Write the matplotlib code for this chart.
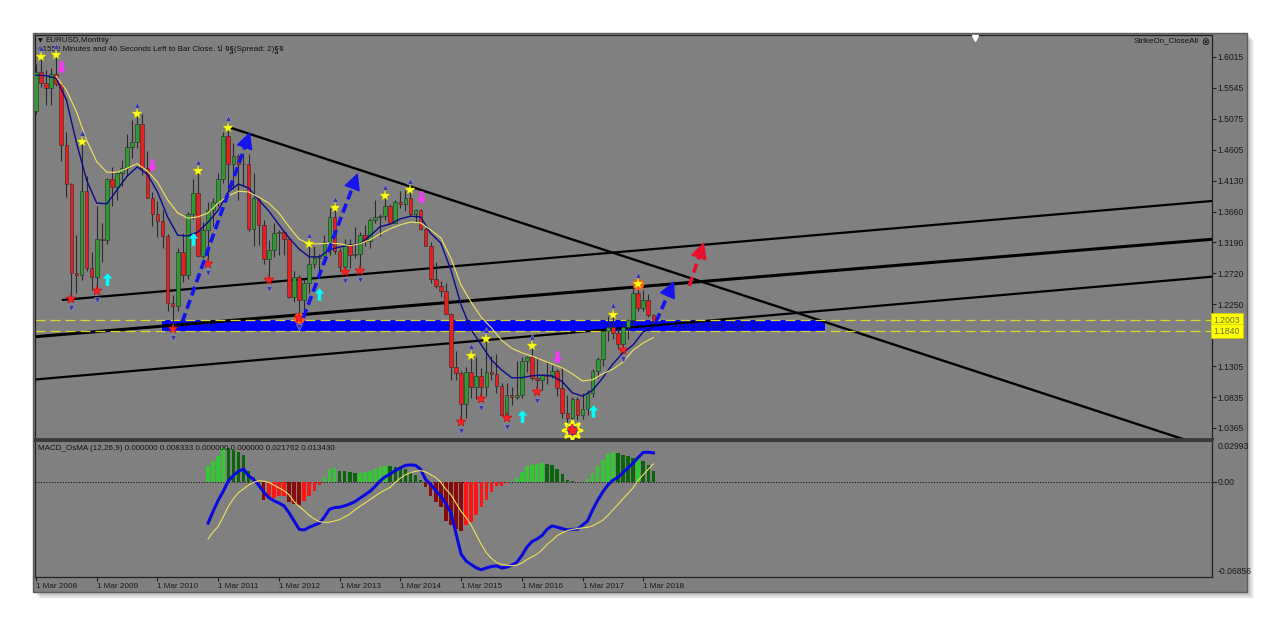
import numpy as np
import matplotlib
matplotlib.use('Agg')
import matplotlib.pyplot as plt
from matplotlib.patches import Rectangle
from matplotlib.path import Path
import matplotlib.transforms as mtransforms
from matplotlib import font_manager, ft2font

# find an installed family that carries Thai glyphs (for the header text)
thai_family = None
for f in font_manager.fontManager.ttflist:
    try:
        cmap = ft2font.FT2Font(f.fname).get_charmap()
    except Exception:
        continue
    if 0x0E1B in cmap and 0x0E08 in cmap and 0x0E10 in cmap:
        thai_family = f.name
        break

families = ['Liberation Sans', 'DejaVu Sans']
if thai_family:
    families.append(thai_family)
plt.rcParams['font.family'] = families

# EURUSD monthly, bar 0 = Mar 2008 ... bar 122 = May 2018
opens = [1.5185, 1.5785, 1.5615, 1.5550, 1.5755, 1.5605, 1.4675, 1.4080, 1.2725, 1.2700,
         1.3970, 1.2800, 1.2665, 1.3245, 1.3230, 1.4150, 1.4030, 1.4250, 1.4330, 1.4640,
         1.4720, 1.5000, 1.4320, 1.3865, 1.3625, 1.3510, 1.3290, 1.2270, 1.2230, 1.3050,
         1.2690, 1.3630, 1.3940, 1.2980, 1.3380, 1.3690, 1.3800, 1.4160, 1.4810, 1.4390,
         1.4500, 1.4390, 1.4380, 1.3390, 1.3870, 1.3450, 1.2940, 1.3080, 1.3340, 1.3345,
         1.3240, 1.2360, 1.2660, 1.2310, 1.2580, 1.2860, 1.2960, 1.2990, 1.3190, 1.3580,
         1.3060, 1.2820, 1.3170, 1.3000, 1.3010, 1.3300, 1.3220, 1.3530, 1.3580, 1.3590,
         1.3750, 1.3490, 1.3800, 1.3770, 1.3870, 1.3630, 1.3690, 1.3390, 1.3130, 1.2630,
         1.2530, 1.2450, 1.2100, 1.1290, 1.1200, 1.0730, 1.1220, 1.0990, 1.1150, 1.0990,
         1.1210, 1.1180, 1.1010, 1.0570, 1.0860, 1.0830, 1.0870, 1.1380, 1.1450, 1.1130,
         1.1100, 1.1170, 1.1160, 1.1240, 1.0980, 1.0590, 1.0520, 1.0800, 1.0570, 1.0650,
         1.0900, 1.1240, 1.1420, 1.1840, 1.1910, 1.1810, 1.1650, 1.1900, 1.2010, 1.2420,
         1.2190, 1.2320, 1.2080]
highs = [1.5904, 1.6019, 1.5820, 1.5842, 1.6038, 1.5620, 1.4867, 1.4100, 1.3300, 1.4720,
         1.4200, 1.3050, 1.3740, 1.3480, 1.4170, 1.4340, 1.4280, 1.4450, 1.4840, 1.5060,
         1.5140, 1.5145, 1.4580, 1.3960, 1.3820, 1.3690, 1.3320, 1.2390, 1.3110, 1.3330,
         1.3650, 1.4160, 1.4280, 1.3500, 1.3800, 1.3860, 1.4250, 1.4880, 1.4940, 1.4700,
         1.4540, 1.4550, 1.4540, 1.4250, 1.3870, 1.3530, 1.3230, 1.3490, 1.3380, 1.3370,
         1.3280, 1.2750, 1.2700, 1.2640, 1.3170, 1.3140, 1.3010, 1.3310, 1.3710, 1.3711,
         1.3110, 1.3240, 1.3240, 1.3420, 1.3350, 1.3450, 1.3570, 1.3830, 1.3620, 1.3893,
         1.3770, 1.3830, 1.3970, 1.3990, 1.3993, 1.3700, 1.3700, 1.3440, 1.3190, 1.2890,
         1.2600, 1.2570, 1.2110, 1.1530, 1.1230, 1.1290, 1.1467, 1.1440, 1.1280, 1.1714,
         1.1460, 1.1490, 1.1050, 1.1050, 1.0990, 1.1380, 1.1440, 1.1460, 1.1616, 1.1430,
         1.1190, 1.1370, 1.1330, 1.1260, 1.1300, 1.0870, 1.0830, 1.0830, 1.0900, 1.0950,
         1.1270, 1.1450, 1.1840, 1.2070, 1.2092, 1.1880, 1.1960, 1.2020, 1.2540, 1.2556,
         1.2470, 1.2410, 1.2100]
lows = [1.5146, 1.5555, 1.5285, 1.5285, 1.5575, 1.4430, 1.3885, 1.2330, 1.2420, 1.2620,
        1.2750, 1.2460, 1.2455, 1.2890, 1.3160, 1.3750, 1.3830, 1.4050, 1.4210, 1.4480,
        1.4630, 1.4220, 1.3860, 1.3440, 1.3270, 1.3110, 1.2140, 1.1876, 1.2150, 1.2590,
        1.2640, 1.3550, 1.2970, 1.2960, 1.2867, 1.3440, 1.3750, 1.4100, 1.3970, 1.4010,
        1.3840, 1.4050, 1.3360, 1.3140, 1.3150, 1.2860, 1.2624, 1.2970, 1.3000, 1.3000,
        1.2340, 1.2290, 1.2042, 1.2130, 1.2420, 1.2800, 1.2660, 1.2920, 1.3000, 1.3020,
        1.2750, 1.2745, 1.2800, 1.2950, 1.2755, 1.3130, 1.3110, 1.3480, 1.3290, 1.3540,
        1.3480, 1.3480, 1.3710, 1.3670, 1.3590, 1.3500, 1.3380, 1.3130, 1.2570, 1.2500,
        1.2360, 1.2100, 1.1100, 1.1100, 1.0462, 1.0520, 1.0820, 1.0810, 1.0809, 1.0850,
        1.1090, 1.0900, 1.0560, 1.0522, 1.0710, 1.0810, 1.0820, 1.1210, 1.1100, 1.0912,
        1.0950, 1.1040, 1.1120, 1.0850, 1.0520, 1.0350, 1.0340, 1.0490, 1.0500, 1.0570,
        1.0840, 1.1120, 1.1310, 1.1690, 1.1720, 1.1570, 1.1554, 1.1720, 1.1920, 1.2150,
        1.2150, 1.2060, 1.1950]
closes = [1.5785, 1.5615, 1.5550, 1.5755, 1.5605, 1.4675, 1.4080, 1.2725, 1.2700, 1.3970,
          1.2800, 1.2665, 1.3245, 1.3230, 1.4150, 1.4030, 1.4250, 1.4330, 1.4640, 1.4720,
          1.5000, 1.4320, 1.3865, 1.3625, 1.3510, 1.3290, 1.2270, 1.2230, 1.3050, 1.2690,
          1.3630, 1.3940, 1.2980, 1.3380, 1.3690, 1.3800, 1.4160, 1.4810, 1.4390, 1.4500,
          1.4390, 1.4380, 1.3390, 1.3870, 1.3450, 1.2940, 1.3080, 1.3340, 1.3345, 1.3240,
          1.2360, 1.2660, 1.2310, 1.2580, 1.2860, 1.2960, 1.2990, 1.3190, 1.3580, 1.3060,
          1.2820, 1.3170, 1.3000, 1.3010, 1.3300, 1.3220, 1.3530, 1.3580, 1.3590, 1.3750,
          1.3490, 1.3800, 1.3770, 1.3870, 1.3630, 1.3690, 1.3390, 1.3130, 1.2630, 1.2530,
          1.2450, 1.2100, 1.1290, 1.1200, 1.0730, 1.1220, 1.0990, 1.1150, 1.0990, 1.1210,
          1.1180, 1.1010, 1.0570, 1.0860, 1.0830, 1.0870, 1.1380, 1.1450, 1.1130, 1.1100,
          1.1170, 1.1160, 1.1240, 1.0980, 1.0590, 1.0520, 1.0800, 1.0570, 1.0650, 1.0900,
          1.1240, 1.1420, 1.1840, 1.1910, 1.1810, 1.1650, 1.1900, 1.2010, 1.2420, 1.2190,
          1.2320, 1.2080, 1.1995]

# moving averages (every 2nd bar)
navy_ma_bars = list(range(0, 123, 2))
navy_ma = [1.574, 1.573, 1.569, 1.536, 1.471, 1.414, 1.379, 1.378, 1.399, 1.420, 1.434, 1.423,
           1.396, 1.358, 1.330, 1.329, 1.335, 1.350, 1.368, 1.396, 1.408, 1.402, 1.384, 1.367,
           1.346, 1.326, 1.309, 1.297, 1.297, 1.308, 1.312, 1.315, 1.317, 1.329, 1.343, 1.347,
           1.355, 1.359, 1.358, 1.333, 1.318, 1.277, 1.224, 1.186, 1.163, 1.140, 1.125, 1.113,
           1.113, 1.116, 1.117, 1.116, 1.107, 1.090, 1.085, 1.094, 1.113, 1.134, 1.151, 1.163,
           1.183, 1.190]
yellow_ma_bars = list(range(4, 123, 2))
yellow_ma = [1.572, 1.551, 1.518, 1.475, 1.442, 1.426, 1.426, 1.432, 1.439, 1.428, 1.411, 1.384,
             1.364, 1.356, 1.358, 1.364, 1.379, 1.390, 1.397, 1.396, 1.388, 1.379, 1.364, 1.343,
             1.324, 1.317, 1.317, 1.318, 1.317, 1.314, 1.317, 1.323, 1.332, 1.340, 1.346, 1.350,
             1.349, 1.338, 1.326, 1.295, 1.254, 1.228, 1.205, 1.189, 1.170, 1.158, 1.151, 1.146,
             1.140, 1.134, 1.128, 1.119, 1.108, 1.110, 1.119, 1.126, 1.137, 1.155, 1.166, 1.174]

# signals
star_high_bars = [1, 4, 9, 20, 32, 38, 54, 59, 69, 74, 86, 89, 98, 114, 119]
star_low_bars = [7, 12, 27, 34, 46, 52, 61, 64, 84, 88, 93, 99, 106, 116]
buy_arrow_bars = [14, 31, 56, 96, 110]
buy_arrow_price = [1.2629, 1.3243, 1.2401, 1.0547, 1.0624]
sell_arrow_bars = [5, 23, 76, 103]
sell_arrow_price = [1.5858, 1.4370, 1.3878, 1.1446]
sun_bar = 106

# chart objects (bar, price)
line_a = [(5.1, 1.2314), (232.4, 1.3822)]
line_b = [(-0.2, 1.1755), (232.4, 1.3239)]
line_c = [(-0.2, 1.1103), (232.4, 1.2669)]
line_d = [(38.0, 1.4949), (240.0, 0.9860)]
zone_lo, zone_hi = 1.1840, 1.2003
zone_start, zone_end = 24.9, 155.9
blue_arrows = [((28.9, 1.1979), (42.3, 1.4873)),
               ((52.8, 1.2040), (63.6, 1.4248)),
               ((122.5, 1.1979), (126.1, 1.2604))]
red_arrow = ((129.1, 1.2527), (132.0, 1.3197))

price_ticks = [1.6015, 1.5545, 1.5075, 1.4605, 1.4130, 1.3660, 1.3190, 1.2720,
               1.2250, 1.1780, 1.1305, 1.0835, 1.0365]
date_bars = [0, 12, 24, 36, 48, 60, 72, 84, 96, 108, 120]
date_labels = ['1 Mar 2008', '1 Mar 2009', '1 Mar 2010', '1 Mar 2011', '1 Mar 2012',
               '1 Mar 2013', '1 Mar 2014', '1 Mar 2015', '1 Mar 2016', '1 Mar 2017',
               '1 Mar 2018']

# MACD_OsMA (12,26,9), bars 34..122, values x1e-3
macd_bars = list(range(34, 123))
osma = [12.1, 15.2, 18.8, 24.9, 24.6, 23.7, 22.0, 19.6, 8.0, 3.5,
        -3.0, -13.0, -12.0, -11.0, -10.2, -9.8, -14.5, -15.5, -16.4, -13.3,
        -9.7, -6.0, -1.7, 3.6, 10.0, 10.4, 8.5, 8.0, 7.2, 6.5,
        7.0, 7.3, 8.5, 10.0, 11.0, 12.0, 11.5, 10.8, 10.1, 9.6,
        7.2, 5.3, 1.9, -3.6, -9.7, -14.5, -18.0, -27.8, -31.0, -33.8,
        -35.0, -31.0, -29.0, -23.7, -18.0, -12.6, -6.8, -3.0, -2.4, -0.7,
        1.2, 2.9, 7.7, 12.0, 12.8, 13.3, 13.8, 13.3, 12.8, 9.7,
        6.0, 1.9, 1.2, 0.3, 0.5, 2.4, 6.5, 11.6, 16.4, 20.5,
        22.2, 21.3, 19.8, 18.8, 17.4, 17.8, 15.7, 12.6, 8.3]
macd_line = [-29.5, -21, -13, -6.5, 1, 5, 8, 9.7, 4.8, 2,
             -2, -7, -11, -13.3, -15, -17, -22, -28, -34, -34.5,
             -32.5, -31, -29.5, -25, -19.5, -18.3, -18, -17, -15.7, -14,
             -11.5, -9, -6.5, -3, 1, 4, 6, 8.5, 10.5, 12.3,
             12.6, 12.3, 9.5, 2, -1.5, -6, -10, -15.5, -22, -37,
             -52, -57, -59.5, -62, -63.3, -62, -61, -60.5, -62, -61.5,
             -60, -58, -53, -47, -43, -41, -38.5, -34, -31.5, -32.5,
             -33.5, -34.5, -34, -34, -31, -28, -20, -13, -7, -2,
             1.5, 3.6, 7, 10.5, 14, 18, 21.7, 21.8, 21.3]
signal_line = [-41, -36, -32, -25, -17.5, -12, -7.5, -4.8, -2, 0,
               1.2, 0.8, 0, -2, -4, -6, -9, -14, -17.5, -20.5,
               -24, -26.5, -28.5, -29, -28.8, -28, -27, -25, -23, -20,
               -17.5, -15, -12.5, -10, -7.5, -5.5, -3.6, 0, 3, 5.5,
               7, 8, 8.5, 7.5, 5.5, 3.5, 0, -5, -9, -15,
               -21, -25.5, -31, -38, -45, -51, -55, -58, -59.5, -60,
               -60.4, -60, -58.5, -56, -54, -52, -49, -45, -42, -38.6,
               -36.5, -35, -34, -33.5, -33, -32.6, -31.5, -29.5, -27.5, -24,
               -20, -16, -12, -8, -4, 1.5, 5.5, 9.5, 13.3]

W, H = 1280, 626
BG = '#808080'


def fx(px):
    return px / W


def fy(py):
    return 1 - py / H


fig = plt.figure(figsize=(12.8, 6.26), dpi=100, facecolor='white')

# terminal window + soft shadow
for k in range(1, 8):
    fig.add_artist(Rectangle((fx(33 + k), fy(592 + k)), fx(1214), 559 / H,
                             transform=fig.transFigure, facecolor='black',
                             alpha=0.045, edgecolor='none', zorder=-3))
win = Rectangle((fx(33), fy(592)), fx(1214), 559 / H, transform=fig.transFigure,
                facecolor=BG, edgecolor='#5c5c5c', lw=1, zorder=-2)
fig.add_artist(win)

ax = fig.add_axes([fx(35), fy(439), fx(1177), 404 / H])
ax2 = fig.add_axes([fx(35), fy(577), fx(1177), 136 / H])
for a in (ax, ax2):
    a.set_facecolor(BG)
    a.set_xlim(-0.2, 232.4)
    for s in a.spines.values():
        s.set_color('#222222')
        s.set_linewidth(0.9)
ax.spines['bottom'].set_color('#3a3a3a')
ax.spines['bottom'].set_linewidth(2)
ax2.spines['top'].set_color('#3a3a3a')
ax2.spines['top'].set_linewidth(1.5)
ax.set_ylim(1.0197, 1.6350)
ax2.set_ylim(-0.06856, 0.02993)

# ---------- price panel ----------
ax.add_patch(Rectangle((zone_start, zone_lo), zone_end - zone_start, zone_hi - zone_lo,
                       facecolor='#0000ff', edgecolor='none', zorder=1))
ax.text(125.9, (zone_lo + zone_hi) / 2, '41550:46s (Sp: 2)', color='#1c1c7a',
        fontsize=8, va='center', ha='left', zorder=1.5)

for ln, lw in ((line_a, 1.6), (line_b, 2.2), (line_c, 1.6), (line_d, 1.7)):
    ax.plot([ln[0][0], ln[1][0]], [ln[0][1], ln[1][1]], color='black', lw=lw,
            zorder=2, solid_capstyle='butt')

for lvl in (zone_hi, zone_lo):
    ax.axhline(lvl, color='#d9d92a', lw=0.9, ls=(0, (8, 4)), zorder=2.5)

x = np.arange(len(closes))
o = np.array(opens); c = np.array(closes); h = np.array(highs); l = np.array(lows)
up = c >= o
ax.vlines(x, l, h, color='#2a2a2a', lw=0.8, zorder=3)
body_lo = np.minimum(o, c)
body_h = np.maximum(np.abs(c - o), 0.0012)
ax.bar(x, body_h, bottom=body_lo, width=0.72,
       color=np.where(up, '#2f9a2f', '#ee1c1c'), edgecolor='#2a2a2a', lw=0.4, zorder=4)

ax.plot(navy_ma_bars, navy_ma, color='#0a0a8c', lw=1.0, zorder=5)
ax.plot(yellow_ma_bars, yellow_ma, color='#f2e35c', lw=0.8, zorder=5)

# fractals + stars
hi_b = np.array(star_high_bars); lo_b = np.array(star_low_bars)
ax.plot(hi_b, h[hi_b] + 0.014, ls='none', marker='^', ms=4.5, color='#3b3b9e',
        mec='#9a9ad0', mew=0.4, zorder=6)
ax.plot(lo_b, l[lo_b] - 0.014, ls='none', marker='v', ms=4.5, color='#3b3b9e',
        mec='#9a9ad0', mew=0.4, zorder=6)
ax.plot([119, 52], [h[119], l[52]], ls='none', marker='o', ms=7, color='#ff5a1e',
        zorder=6)
ax.plot(hi_b, h[hi_b], ls='none', marker='*', ms=8, color='#ffff1a',
        mec='#c8c800', mew=0.3, zorder=7)
ax.plot(lo_b, l[lo_b], ls='none', marker='*', ms=8, color='#ff2020',
        mec='#b00000', mew=0.3, zorder=7)
ax.plot([sun_bar], [l[sun_bar]], ls='none', marker=(8, 1, 0), ms=15, mfc='none',
        mec='#ffff00', mew=1.6, zorder=6)
ax.plot([sun_bar], [l[sun_bar]], ls='none', marker='o', ms=7, mfc='#2a3aa0',
        mec='none', zorder=6.5)
ax.plot([sun_bar], [l[sun_bar]], ls='none', marker='*', ms=8, color='#ff2020', zorder=7)

arrow_up = Path([(0, 1), (-0.75, 0.15), (-0.28, 0.15), (-0.28, -1), (0.28, -1),
                 (0.28, 0.15), (0.75, 0.15), (0, 1)])
arrow_dn = Path([(0, -1), (-0.75, -0.15), (-0.28, -0.15), (-0.28, 1), (0.28, 1),
                 (0.28, -0.15), (0.75, -0.15), (0, -1)])
ax.plot(buy_arrow_bars, buy_arrow_price, ls='none', marker=arrow_up, ms=9,
        color='#00ffff', mew=0, zorder=7)
ax.plot(sell_arrow_bars, sell_arrow_price, ls='none', marker=arrow_dn, ms=9,
        color='#ff33ff', mew=0, zorder=7)


def dashed_arrow(p0, p1, color):
    # shaft stops a little before the tip, head drawn solid
    t = ax.transData
    a0 = t.transform(p0); a1 = t.transform(p1)
    d = a1 - a0
    n = np.hypot(*d)
    back = t.inverted().transform(a1 - d / n * 10)
    ax.plot([p0[0], back[0]], [p0[1], back[1]], color=color, lw=2.6,
            ls=(0, (2.6, 1.3)), zorder=8, solid_capstyle='butt')
    ax.annotate('', xy=p1, xytext=back,
                arrowprops=dict(arrowstyle='-|>,head_length=0.75,head_width=0.38',
                                color=color, lw=1, shrinkA=0, shrinkB=0,
                                mutation_scale=14), zorder=8)


for p0, p1 in blue_arrows:
    dashed_arrow(p0, p1, '#1414f0')
dashed_arrow(red_arrow[0], red_arrow[1], '#e8102e')

ax.set_xticks([])
ax.yaxis.tick_right()
ax.set_yticks(price_ticks)
ax.set_yticklabels(['%.4f' % v for v in price_ticks])
ax.tick_params(axis='y', length=3, width=0.8, color='#222222', labelsize=6.2,
               labelcolor='#1a1a1a', pad=1.2)

# level labels on the price scale (they sit over the 1.1780 label, as in the terminal)
bt = mtransforms.blended_transform_factory(ax.transAxes, ax.transData)
for lvl in (zone_hi, zone_lo):
    ax.text(1.0015, lvl, '%.4f' % lvl, transform=bt, fontsize=6.2, color='#6e6e48',
            va='center', ha='left', clip_on=False, zorder=10,
            bbox=dict(boxstyle='square,pad=0.32', facecolor='#ffff00',
                      edgecolor='#d0d000', lw=0.5))

ax.text(3 / 1177, 1 - 6 / 404, '\u25bc', transform=ax.transAxes, fontsize=4.5,
        color='#111111', va='center', ha='left', family=['DejaVu Sans'])
ax.text(10 / 1177, 1 - 6 / 404, 'EURUSD,Monthly', transform=ax.transAxes, fontsize=5.8,
        color='#111111', va='center', ha='left')
ax.text(3 / 1177, 1 - 14 / 404,
        '41550 Minutes and 46 Seconds Left to Bar Close. ป จฐ(Spread: 2)ฐจ',
        transform=ax.transAxes, fontsize=5.8, color='#111111', va='center', ha='left')
ax.text((1199 - 35) / 1177, 1 - 6 / 404, 'StrikeOn_CloseAll', transform=ax.transAxes,
        fontsize=5.8, color='#111111', va='center', ha='right')
ax.text((1205 - 35) / 1177, 1 - 7 / 404, '\u2297', transform=ax.transAxes, fontsize=7,
        color='#111111', va='center', ha='center', family=['DejaVu Sans'])
ax.plot([(975 - 35) / 1177], [1 - 2.5 / 404], transform=ax.transAxes, marker='v',
        ms=5, color='white', clip_on=False, zorder=10)

# ---------- MACD panel ----------
cols = []
prev = None
for v in osma:
    if v >= 0:
        cols.append('#34c934' if prev is None or v >= prev else '#0b650b')
    else:
        cols.append('#ff1414' if prev is not None and v > prev else '#8a0a0a')
    prev = v
ax2.bar(macd_bars, np.array(osma) / 1000, width=0.7, color=cols, lw=0, zorder=2)
ax2.axhline(0, color='#111111', lw=0.7, ls=(0, (1.2, 1.6)), zorder=1)
ax2.plot(macd_bars, np.array(macd_line) / 1000, color='#0a0ae0', lw=2.2, zorder=3)
ax2.plot(macd_bars, np.array(signal_line) / 1000, color='#eee05a', lw=0.8, zorder=3)

ax2.text(3 / 1177, 1 - 7 / 136,
         'MACD_OsMA (12,26,9) 0.000000 0.008333 0.000000 0.000000 0.021762 0.013430',
         transform=ax2.transAxes, fontsize=5.8, color='#111111', va='center', ha='left')

ax2.set_yticks([])
bt2 = mtransforms.blended_transform_factory(ax2.transAxes, ax2.transData)
for val, txt, va in ((0.0293, '0.02993', 'top'), (0.0, '0.00', 'center'),
                     (-0.0680, '-0.06856', 'bottom')):
    ax2.text(1.0045, val, txt, transform=bt2, fontsize=6.2, color='#1a1a1a',
             va=va, ha='left')
ax2.plot([1.0, 1.003], [0, 0], transform=bt2, color='#222222', lw=0.8, clip_on=False)

ax2.set_xticks(date_bars)
ax2.set_xticklabels(date_labels)
for lab in ax2.get_xticklabels():
    lab.set_horizontalalignment('left')
ax2.tick_params(axis='x', length=3, width=0.8, color='#222222', labelsize=5.9,
                labelcolor='#1a1a1a', pad=1.5)

fig.savefig('out.png', dpi=100, facecolor='white')
